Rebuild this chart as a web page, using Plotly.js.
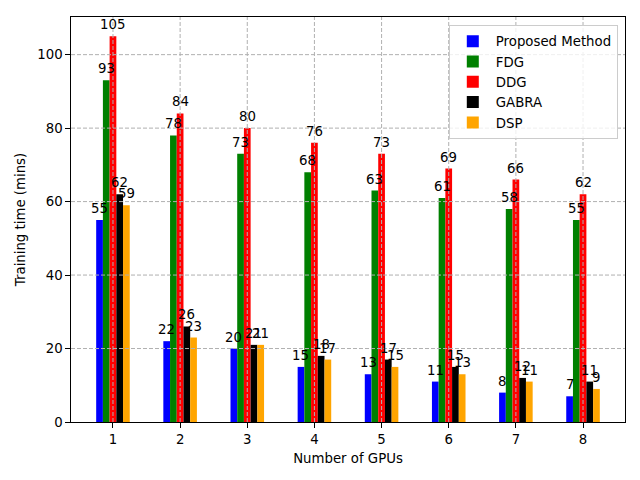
<!DOCTYPE html>
<html>
<head>
<meta charset="utf-8">
<script src="https://cdn.plot.ly/plotly-3.0.1.min.js"></script>
<style>
  body { margin: 0; }
  #plot { width: 640px; height: 480px; }
</style>
</head>
<body>
<div id="plot"></div>
<script>
var gpus = [1, 2, 3, 4, 5, 6, 7, 8]
var proposed = [55, 22, 20, 15, 13, 11, 8, 7]
var fdg = [93, 78, 73, 68, 63, 61, 58, 55]
var ddg = [105, 84, 80, 76, 73, 69, 66, 62]
var gabra = [62, 26, 21, 18, 17, 15, 12, 11]
var dsp = [59, 23, 21, 17, 15, 13, 11, 9]
var yTicks = [0, 20, 40, 60, 80, 100]

var series = [
    {name: "Proposed Method", y: proposed, color: "blue"},
    {name: "FDG", y: fdg, color: "green"},
    {name: "DDG", y: ddg, color: "red"},
    {name: "GABRA", y: gabra, color: "black"},
    {name: "DSP", y: dsp, color: "orange"}
]

var font = "DejaVu Sans, sans-serif"
var barWidth = 0.1

var data = []
var annotations = []
series.forEach(function (s, k){
    data.push({
        type: "bar",
        name: s.name,
        x: gpus,
        y: s.y,
        marker: {color: s.color, line: {width: 0}},
        hoverinfo: "name+y"
    })
    // value labels sit on top of everything, like matplotlib's bar_label
    let offset = (k - (series.length - 1) / 2) * barWidth
    s.y.forEach(function (v, i){
        annotations.push({
            x: gpus[i] + offset, y: v, xref: "x", yref: "y",
            text: String(v), showarrow: false,
            xanchor: "center", yanchor: "bottom",
            borderpad: 0, yshift: 3,
            font: {family: font, size: 13.3, color: "black"}
        })
    })
})

// matplotlib draws the grid above the bars, so use shapes on the top layer
var grid = {color: "#b0b0b0", width: 1, dash: "4px,2px"}
var shapes = []
for (let g of gpus){
    shapes.push({type: "line", layer: "above", xref: "x", yref: "paper",
        x0: g, x1: g, y0: 0, y1: 1, line: grid})
}
for (let t of yTicks){
    if (t === 0) continue
    shapes.push({type: "line", layer: "above", xref: "paper", yref: "y",
        x0: 0, x1: 1, y0: t, y1: t, line: grid})
}

var layout = {
    width: 640,
    height: 480,
    margin: {l: 71, r: 15, t: 17, b: 58},
    paper_bgcolor: "white",
    plot_bgcolor: "white",
    font: {family: font, size: 13.3, color: "black"},
    barmode: "group",
    bargap: 0.5,
    bargroupgap: 0,
    showlegend: true,
    legend: {
        x: 0.987, y: 0.98, xanchor: "right", yanchor: "top",
        bgcolor: "rgba(255,255,255,0.8)",
        bordercolor: "#cccccc", borderwidth: 1,
        font: {family: font, size: 13.3},
        tracegroupgap: 0,
        itemwidth: 36
    },
    xaxis: {
        range: [0.375, 8.625],
        tickvals: gpus,
        ticktext: gpus.map(String),
        ticks: "outside", ticklen: 4.7, tickwidth: 1, tickcolor: "black",
        showgrid: false, zeroline: false,
        showline: true, linecolor: "black", linewidth: 1, mirror: true,
        title: {text: "Number of GPUs", font: {family: font, size: 13.3}, standoff: 8},
        layer: "above traces"
    },
    yaxis: {
        range: [0, 110.25],
        tickvals: yTicks,
        ticktext: yTicks.map(String),
        ticks: "outside", ticklen: 4.7, tickwidth: 1, tickcolor: "black",
        showgrid: false, zeroline: false,
        showline: true, linecolor: "black", linewidth: 1, mirror: true,
        title: {text: "Training time (mins)", font: {family: font, size: 13.3}, standoff: 8},
        layer: "above traces"
    },
    shapes: shapes,
    annotations: annotations
}

Plotly.newPlot("plot", data, layout, {displayModeBar: false})
</script>
</body>
</html>
